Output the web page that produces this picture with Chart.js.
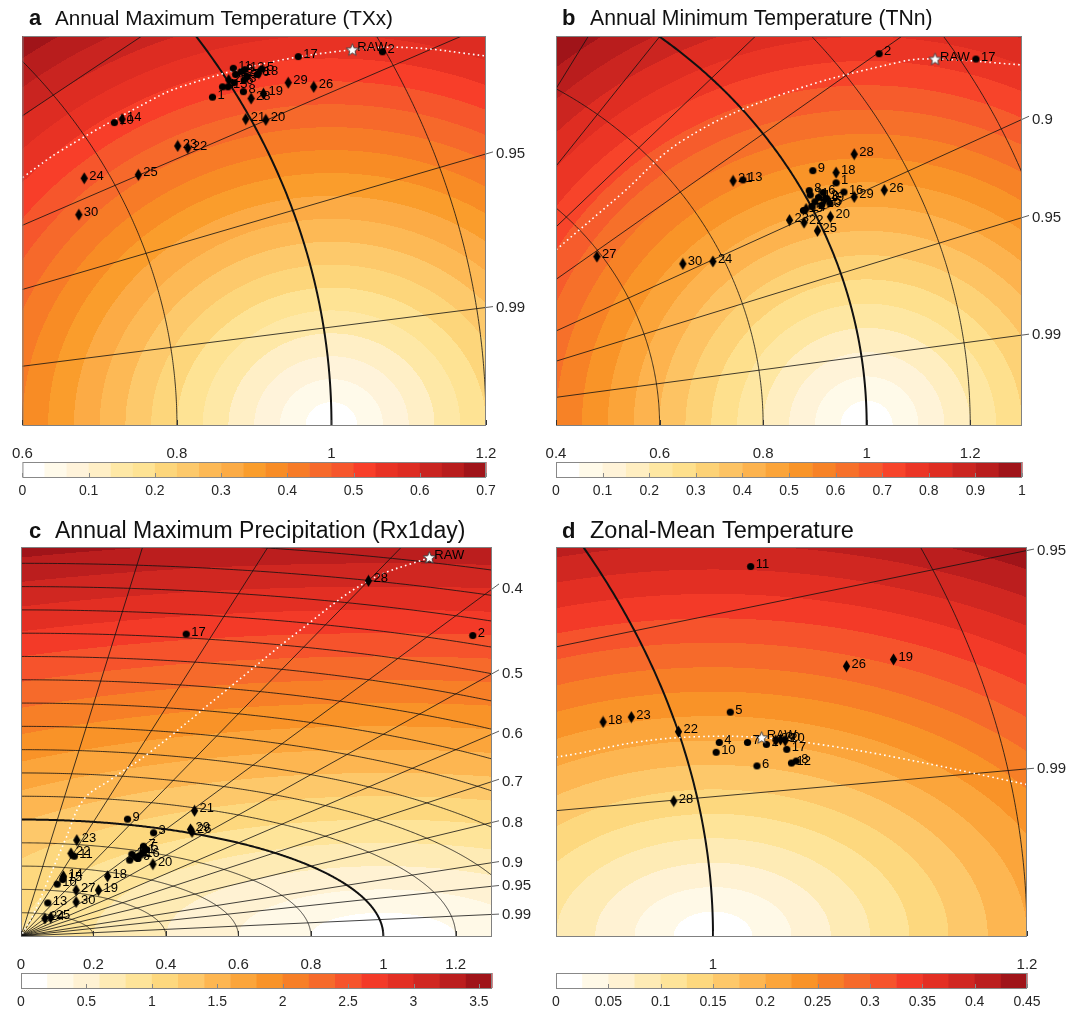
<!DOCTYPE html>
<html>
<head>
<meta charset="utf-8">
<script src="https://cdn.jsdelivr.net/npm/chart.js@4.4.0/dist/chart.umd.min.js"></script>
<style>
  body { margin: 0; background: #fff; width: 1067px; height: 1010px; position: relative; overflow: hidden; }
  canvas { position: absolute; }
</style>
</head>
<body>
<canvas id="pa" width="533" height="510" style="left:0;top:0"></canvas>
<canvas id="pb" width="534" height="510" style="left:533px;top:0"></canvas>
<canvas id="pc" width="533" height="500" style="left:0;top:510px"></canvas>
<canvas id="pd" width="534" height="500" style="left:533px;top:510px"></canvas>
<script>
// ---- data (x = std*corr, y = std*sin(acos corr), normalised std) ----
const titleLetters = ["a", "b", "c", "d"];
const titleTexts = [
  "Annual Maximum Temperature (TXx)",
  "Annual Minimum Temperature (TNn)",
  "Annual Maximum Precipitation (Rx1day)",
  "Zonal-Mean Temperature"
];
const titleSizes = [20.7, 21.2, 23, 23.5];

const diamondIds = [14, 18, 19, 20, 21, 22, 23, 24, 25, 26, 27, 28, 29, 30];
const corrLines = [0.1, 0.2, 0.3, 0.4, 0.5, 0.6, 0.7, 0.8, 0.9, 0.95, 0.99];
const stdArcs = [0.2, 0.4, 0.6, 0.8, 1.0, 1.2, 1.4, 1.6, 1.8, 2.0, 2.2, 2.4, 2.6, 2.8, 3.0, 3.2, 3.4];

// a  TXx
const aIds = [1, 2, 3, 4, 5, 6, 7, 8, 9, 10, 11, 12, 13, 14, 15, 16, 17, 18, 19, 20, 21, 22, 23, 24, 25, 26, 27, 28, 29, 30];
const aX = [0.846, 1.066, 0.887, 0.859, 0.910, 0.904, 0.891, 0.886, 0.883, 0.719, 0.873, 0.876, 0.888, 0.729, 0.866, 0.874, 0.957, 0.906, 0.912, 0.915, 0.889, 0.814, 0.801, 0.680, 0.750, 0.977, 0.867, 0.896, 0.944, 0.673];
const aY = [0.477, 0.543, 0.502, 0.492, 0.518, 0.510, 0.507, 0.485, 0.514, 0.440, 0.519, 0.510, 0.517, 0.445, 0.492, 0.498, 0.536, 0.512, 0.482, 0.444, 0.445, 0.403, 0.406, 0.359, 0.364, 0.492, 0.502, 0.475, 0.498, 0.306];
const aRaw = [1.027, 0.546];
const aDotX = [0.600, 0.651, 0.767, 0.805, 0.909, 1.027, 1.102, 1.200];
const aDotY = [0.360, 0.400, 0.473, 0.492, 0.525, 0.546, 0.549, 0.537];
const aXTicks = [0.6, 0.8, 1, 1.2];
const aBar = [0.7, 21, 0.1];   // max, bands, label step

// b  TNn
const bIds = [1, 2, 3, 4, 5, 6, 7, 8, 9, 10, 11, 12, 13, 14, 15, 16, 17, 18, 19, 20, 21, 22, 23, 24, 25, 26, 27, 28, 29, 30];
const bX = [0.941, 1.024, 0.923, 0.900, 0.929, 0.916, 0.894, 0.889, 0.896, 0.913, 0.891, 0.907, 0.761, 0.883, 0.878, 0.956, 1.211, 0.941, 0.919, 0.930, 0.742, 0.879, 0.851, 0.703, 0.905, 1.034, 0.479, 0.976, 0.976, 0.645];
const bY = [0.499, 0.765, 0.467, 0.460, 0.457, 0.479, 0.450, 0.483, 0.524, 0.453, 0.474, 0.469, 0.505, 0.445, 0.442, 0.480, 0.754, 0.520, 0.464, 0.429, 0.503, 0.417, 0.422, 0.337, 0.400, 0.484, 0.347, 0.558, 0.470, 0.332];
const bRaw = [1.132, 0.754];
const bDotX = [0.400, 0.524, 0.646, 0.833, 1.064, 1.132, 1.299];
const bDotY = [0.361, 0.474, 0.587, 0.680, 0.748, 0.754, 0.742];
const bXTicks = [0.4, 0.6, 0.8, 1, 1.2];
const bBar = [1, 20, 0.1];

// c  Rx1day
const cIds = [1, 2, 3, 4, 5, 6, 7, 8, 9, 10, 11, 12, 13, 14, 15, 16, 17, 18, 19, 20, 21, 22, 23, 24, 25, 26, 27, 28, 29, 30];
const cX = [0.337, 1.247, 0.366, 0.315, 0.346, 0.322, 0.338, 0.300, 0.294, 0.100, 0.147, 0.306, 0.074, 0.117, 0.115, 0.329, 0.456, 0.239, 0.214, 0.364, 0.479, 0.138, 0.154, 0.066, 0.082, 0.472, 0.152, 0.959, 0.468, 0.152];
const cY = [0.722, 2.580, 0.886, 0.679, 0.743, 0.666, 0.771, 0.651, 1.003, 0.445, 0.685, 0.702, 0.284, 0.513, 0.485, 0.694, 2.592, 0.513, 0.393, 0.617, 1.075, 0.709, 0.823, 0.150, 0.158, 0.894, 0.393, 3.050, 0.915, 0.292];
const cRaw = [1.127, 3.250];
const cDotX = [1.127, 0.959, 0.772, 0.551, 0.357, 0.246, 0.172, 0.122, 0.075, 0.033, 0.000];
const cDotY = [3.250, 3.050, 2.630, 2.071, 1.580, 1.340, 1.168, 0.824, 0.480, 0.178, 0.000];
const cXTicks = [0, 0.2, 0.4, 0.6, 0.8, 1, 1.2];
const cBar = [3.6, 18, 0.5];

// d  zonal-mean temperature
const dIds = [2, 4, 5, 6, 7, 8, 10, 11, 12, 17, 18, 19, 20, 22, 23, 26, 28, 29, 30];
const dX = [1.034, 1.004, 1.011, 1.028, 1.022, 1.053, 1.002, 1.024, 1.050, 1.047, 0.930, 1.115, 1.046, 0.978, 0.948, 1.085, 0.975, 1.040, 1.043];
const dY = [0.196, 0.198, 0.229, 0.174, 0.198, 0.179, 0.188, 0.378, 0.177, 0.191, 0.219, 0.283, 0.200, 0.209, 0.224, 0.276, 0.138, 0.200, 0.201];
const dRaw = [1.031, 0.203];
const dDotX = [0.900, 0.915, 0.954, 0.992, 1.031, 1.068, 1.119, 1.200];
const dDotY = [0.183, 0.187, 0.199, 0.204, 0.203, 0.196, 0.182, 0.155];
const dXTicks = [1, 1.2];
const dBar = [0.45, 18, 0.05];

const bandPalette = ["#ffffff", "#fffaea", "#fff3da", "#ffefc6", "#fee8a6", "#fee394", "#fdd67b",
  "#fdc96b", "#fdb955", "#fcab45", "#fa9d2c", "#f88c25", "#f77b27", "#f6692b", "#f6562c",
  "#f83e29", "#e83224", "#dd2c22", "#c92420", "#b81d1d", "#a01419"];

const FONT = '"Liberation Sans", Arial, Helvetica, sans-serif';

// ---- helpers ----
function hexRgb(h) {
  return [parseInt(h.slice(1, 3), 16), parseInt(h.slice(3, 5), 16), parseInt(h.slice(5, 7), 16)];
}
function bandColors(n) {
  const stops = bandPalette.map(hexRgb);
  const out = [];
  for (let i = 0; i < n; i++) {
    const t = (i / (n - 1)) * (stops.length - 1);
    const k = Math.min(Math.floor(t), stops.length - 2), f = t - k;
    out.push(stops[k].map((v, j) => Math.round(v + (stops[k + 1][j] - v) * f)));
  }
  return out;
}
function fmt(v) { return String(parseFloat(Number(v).toFixed(3))); }

function marker(kind) {
  const c = document.createElement("canvas");
  const g = c.getContext("2d");
  if (kind === "circle") {
    c.width = 9; c.height = 9;
    g.beginPath(); g.arc(4.5, 4.5, 3.6, 0, Math.PI * 2); g.fillStyle = "#000"; g.fill();
  } else if (kind === "diamond") {
    c.width = 9; c.height = 13;
    g.beginPath(); g.moveTo(4.5, 0.5); g.lineTo(8.2, 6.5); g.lineTo(4.5, 12.5); g.lineTo(0.8, 6.5);
    g.closePath(); g.fillStyle = "#000"; g.fill();
  } else {
    c.width = 15; c.height = 15;
    g.beginPath();
    for (let i = 0; i < 10; i++) {
      const r = i % 2 ? 2.8 : 6.4, a = -Math.PI / 2 + i * Math.PI / 5;
      g.lineTo(7.5 + r * Math.cos(a), 8 + r * Math.sin(a));
    }
    g.closePath(); g.fillStyle = "#fff"; g.fill();
    g.strokeStyle = "#444"; g.lineWidth = 1; g.stroke();
  }
  return c;
}
const circleImg = marker("circle"), diamondImg = marker("diamond"), starImg = marker("star");

// ---- plugins ----
const fieldPlugin = {
  id: "field",
  beforeDraw(chart, args, o) {
    const { ctx, chartArea: ca, scales: { x, y } } = chart;
    const L = Math.round(ca.left), T = Math.round(ca.top);
    const w = Math.round(ca.right) - L, h = Math.round(ca.bottom) - T;
    const cols = bandColors(o.bar[1]);
    const step = o.bar[0] / o.bar[1];
    const img = ctx.createImageData(w, h);
    for (let j = 0; j < h; j++) {
      const yv = y.getValueForPixel(T + j + 0.5);
      for (let i = 0; i < w; i++) {
        const xv = x.getValueForPixel(L + i + 0.5);
        let k = Math.floor(Math.hypot(xv - 1, yv) / step);
        if (k >= cols.length) k = cols.length - 1;
        const c = cols[k], p = (j * w + i) * 4;
        img.data[p] = c[0]; img.data[p + 1] = c[1]; img.data[p + 2] = c[2]; img.data[p + 3] = 255;
      }
    }
    ctx.putImageData(img, L, T);
  },
  beforeDatasetsDraw(chart) {
    const { ctx, chartArea: ca, scales: { x, y } } = chart;
    ctx.save();
    ctx.beginPath(); ctx.rect(ca.left, ca.top, ca.right - ca.left, ca.bottom - ca.top); ctx.clip();
    ctx.strokeStyle = "#111";
    // std arcs
    stdArcs.forEach(r => {
      ctx.lineWidth = Math.abs(r - 1) < 1e-6 ? 2 : 0.8;
      ctx.beginPath();
      for (let i = 0; i <= 400; i++) {
        const a = (i / 400) * Math.PI / 2;
        const px = x.getPixelForValue(r * Math.cos(a)), py = y.getPixelForValue(r * Math.sin(a));
        i ? ctx.lineTo(px, py) : ctx.moveTo(px, py);
      }
      ctx.stroke();
    });
    // correlation rays
    ctx.lineWidth = 0.8;
    corrLines.forEach(c => {
      const a = Math.acos(c);
      ctx.beginPath();
      ctx.moveTo(x.getPixelForValue(0), y.getPixelForValue(0));
      ctx.lineTo(x.getPixelForValue(20 * Math.cos(a)), y.getPixelForValue(20 * Math.sin(a)));
      ctx.stroke();
    });
    ctx.restore();
  },
  afterDatasetsDraw(chart, args, o) {
    const { ctx } = chart;
    ctx.save();
    ctx.fillStyle = "#000";
    ctx.font = "13px " + FONT;
    ctx.textBaseline = "middle";
    const meta = chart.getDatasetMeta(1);
    meta.data.forEach((el, i) => ctx.fillText(String(o.ids[i]), el.x + 5, el.y - 2));
    const r = chart.getDatasetMeta(2).data[0];
    ctx.fillText("RAW", r.x + 5, r.y - 2);
    ctx.restore();
  },
  afterDraw(chart, args, o) {
    const { ctx, chartArea: ca, scales: { x, y } } = chart;
    ctx.save();
    // frame
    ctx.strokeStyle = "#808080"; ctx.lineWidth = 1;
    ctx.strokeRect(ca.left + 0.5, ca.top + 0.5, ca.right - ca.left - 1, ca.bottom - ca.top);
    // x ticks pointing inwards
    ctx.strokeStyle = "#333";
    o.xTicks.forEach(v => {
      const px = Math.round(x.getPixelForValue(v)) + 0.5;
      ctx.beginPath(); ctx.moveTo(px, ca.bottom); ctx.lineTo(px, ca.bottom - 5); ctx.stroke();
    });
    // correlation labels on the right
    ctx.fillStyle = "#262626"; ctx.font = "15px " + FONT; ctx.textBaseline = "middle";
    const xMax = x.max;
    corrLines.forEach(c => {
      const t = Math.tan(Math.acos(c));
      const yv = xMax * t;
      if (yv <= 0 || yv >= y.max) return;
      const py = y.getPixelForValue(yv);
      const x2 = x.getValueForPixel(ca.right + 7);
      ctx.strokeStyle = "#333"; ctx.lineWidth = 0.8;
      ctx.beginPath(); ctx.moveTo(ca.right, py); ctx.lineTo(ca.right + 7, y.getPixelForValue(x2 * t)); ctx.stroke();
      ctx.fillText(fmt(c), ca.right + 10, py);
    });
    // colour bar
    const [bMax, bN, bStep] = o.bar;
    const cols = bandColors(bN);
    const top = ca.bottom + 37, hgt = 15, W = ca.right - ca.left;
    cols.forEach((c, i) => {
      ctx.fillStyle = `rgb(${c[0]},${c[1]},${c[2]})`;
      const x0 = ca.left + W * i / bN, x1 = ca.left + W * (i + 1) / bN;
      ctx.fillRect(x0, top, x1 - x0 + 0.5, hgt);
    });
    ctx.strokeStyle = "#888"; ctx.lineWidth = 1;
    ctx.strokeRect(ca.left + 0.5, top + 0.5, W - 1, hgt);
    ctx.fillStyle = "#262626"; ctx.font = "14px " + FONT; ctx.textAlign = "center"; ctx.textBaseline = "middle";
    const nT = Math.round(bMax / bStep + 1e-9);
    for (let k = 0; k <= nT; k++) {
      const v = k * bStep;
      const px = ca.left + W * v / bMax;
      ctx.strokeStyle = "#888";
      ctx.beginPath(); ctx.moveTo(Math.round(px) + 0.5, top + hgt); ctx.lineTo(Math.round(px) + 0.5, top + hgt - 4); ctx.stroke();
      ctx.fillText(fmt(v), px, top + hgt + 14);
    }
    // title
    ctx.textAlign = "left"; ctx.textBaseline = "alphabetic"; ctx.fillStyle = "#111";
    ctx.font = "bold 22px " + FONT;
    ctx.fillText(o.letter, 29, o.titleY);
    ctx.font = o.titleSize + "px " + FONT;
    ctx.fillText(o.title, o.titleX, o.titleY);
    ctx.restore();
  }
};

function makePanel(id, idx, ids, xs, ys, raw, dotX, dotY, xRange, yMax, xTicks, bar, pad, axisH, titleX, titleY) {
  const pts = ids.map((n, i) => ({ x: xs[i], y: ys[i], id: n }));
  new Chart(document.getElementById(id), {
    type: "scatter",
    data: {
      datasets: [
        {
          type: "line", data: dotX.map((v, i) => ({ x: v, y: dotY[i] })),
          borderColor: "#ffffff", borderWidth: 1.6, borderDash: [1.6, 3.2],
          pointRadius: 0, tension: 0.4, fill: false, order: 3
        },
        {
          data: pts, order: 2, pointRadius: 4,
          pointStyle: c => (c.raw && diamondIds.includes(c.raw.id)) ? diamondImg : circleImg
        },
        { data: [{ x: raw[0], y: raw[1] }], order: 1, pointRadius: 6, pointStyle: starImg }
      ]
    },
    options: {
      responsive: false, animation: false, devicePixelRatio: 1,
      layout: { padding: { left: pad[0], right: pad[1], top: pad[2], bottom: 0 } },
      scales: {
        x: {
          type: "linear", min: xRange[0], max: xRange[1],
          grid: { display: false }, border: { display: false },
          afterBuildTicks: s => { s.ticks = xTicks.map(v => ({ value: v })); },
          afterFit: s => { s.height = axisH; },
          ticks: { callback: v => fmt(v), font: { family: FONT, size: 15 }, color: "#262626", padding: 12, maxRotation: 0, autoSkip: false }
        },
        y: { type: "linear", min: 0, max: yMax, display: false }
      },
      plugins: {
        legend: { display: false }, tooltip: { enabled: false },
        field: { bar, ids, xTicks, letter: titleLetters[idx], title: titleTexts[idx], titleSize: titleSizes[idx], titleX, titleY }
      }
    },
    plugins: [fieldPlugin]
  });
}

makePanel("pa", 0, aIds, aX, aY, aRaw, aDotX, aDotY, [0.6, 1.2], 0.566, aXTicks, aBar, [21, 47, 36], 85, 55, 25);
makePanel("pb", 1, bIds, bX, bY, bRaw, bDotX, bDotY, [0.4, 1.3], 0.8015, bXTicks, bBar, [23, 45, 36], 85, 57, 25);
makePanel("pc", 2, cIds, cX, cY, cRaw, cDotX, cDotY, [0, 1.3], 3.34, cXTicks, cBar, [21, 41, 37], 74, 55, 28);
makePanel("pd", 3, dIds, dX, dY, dRaw, dDotX, dDotY, [0.9, 1.2], 0.398, dXTicks, dBar, [23, 40, 37], 74, 57, 28);
</script>
</body>
</html>
